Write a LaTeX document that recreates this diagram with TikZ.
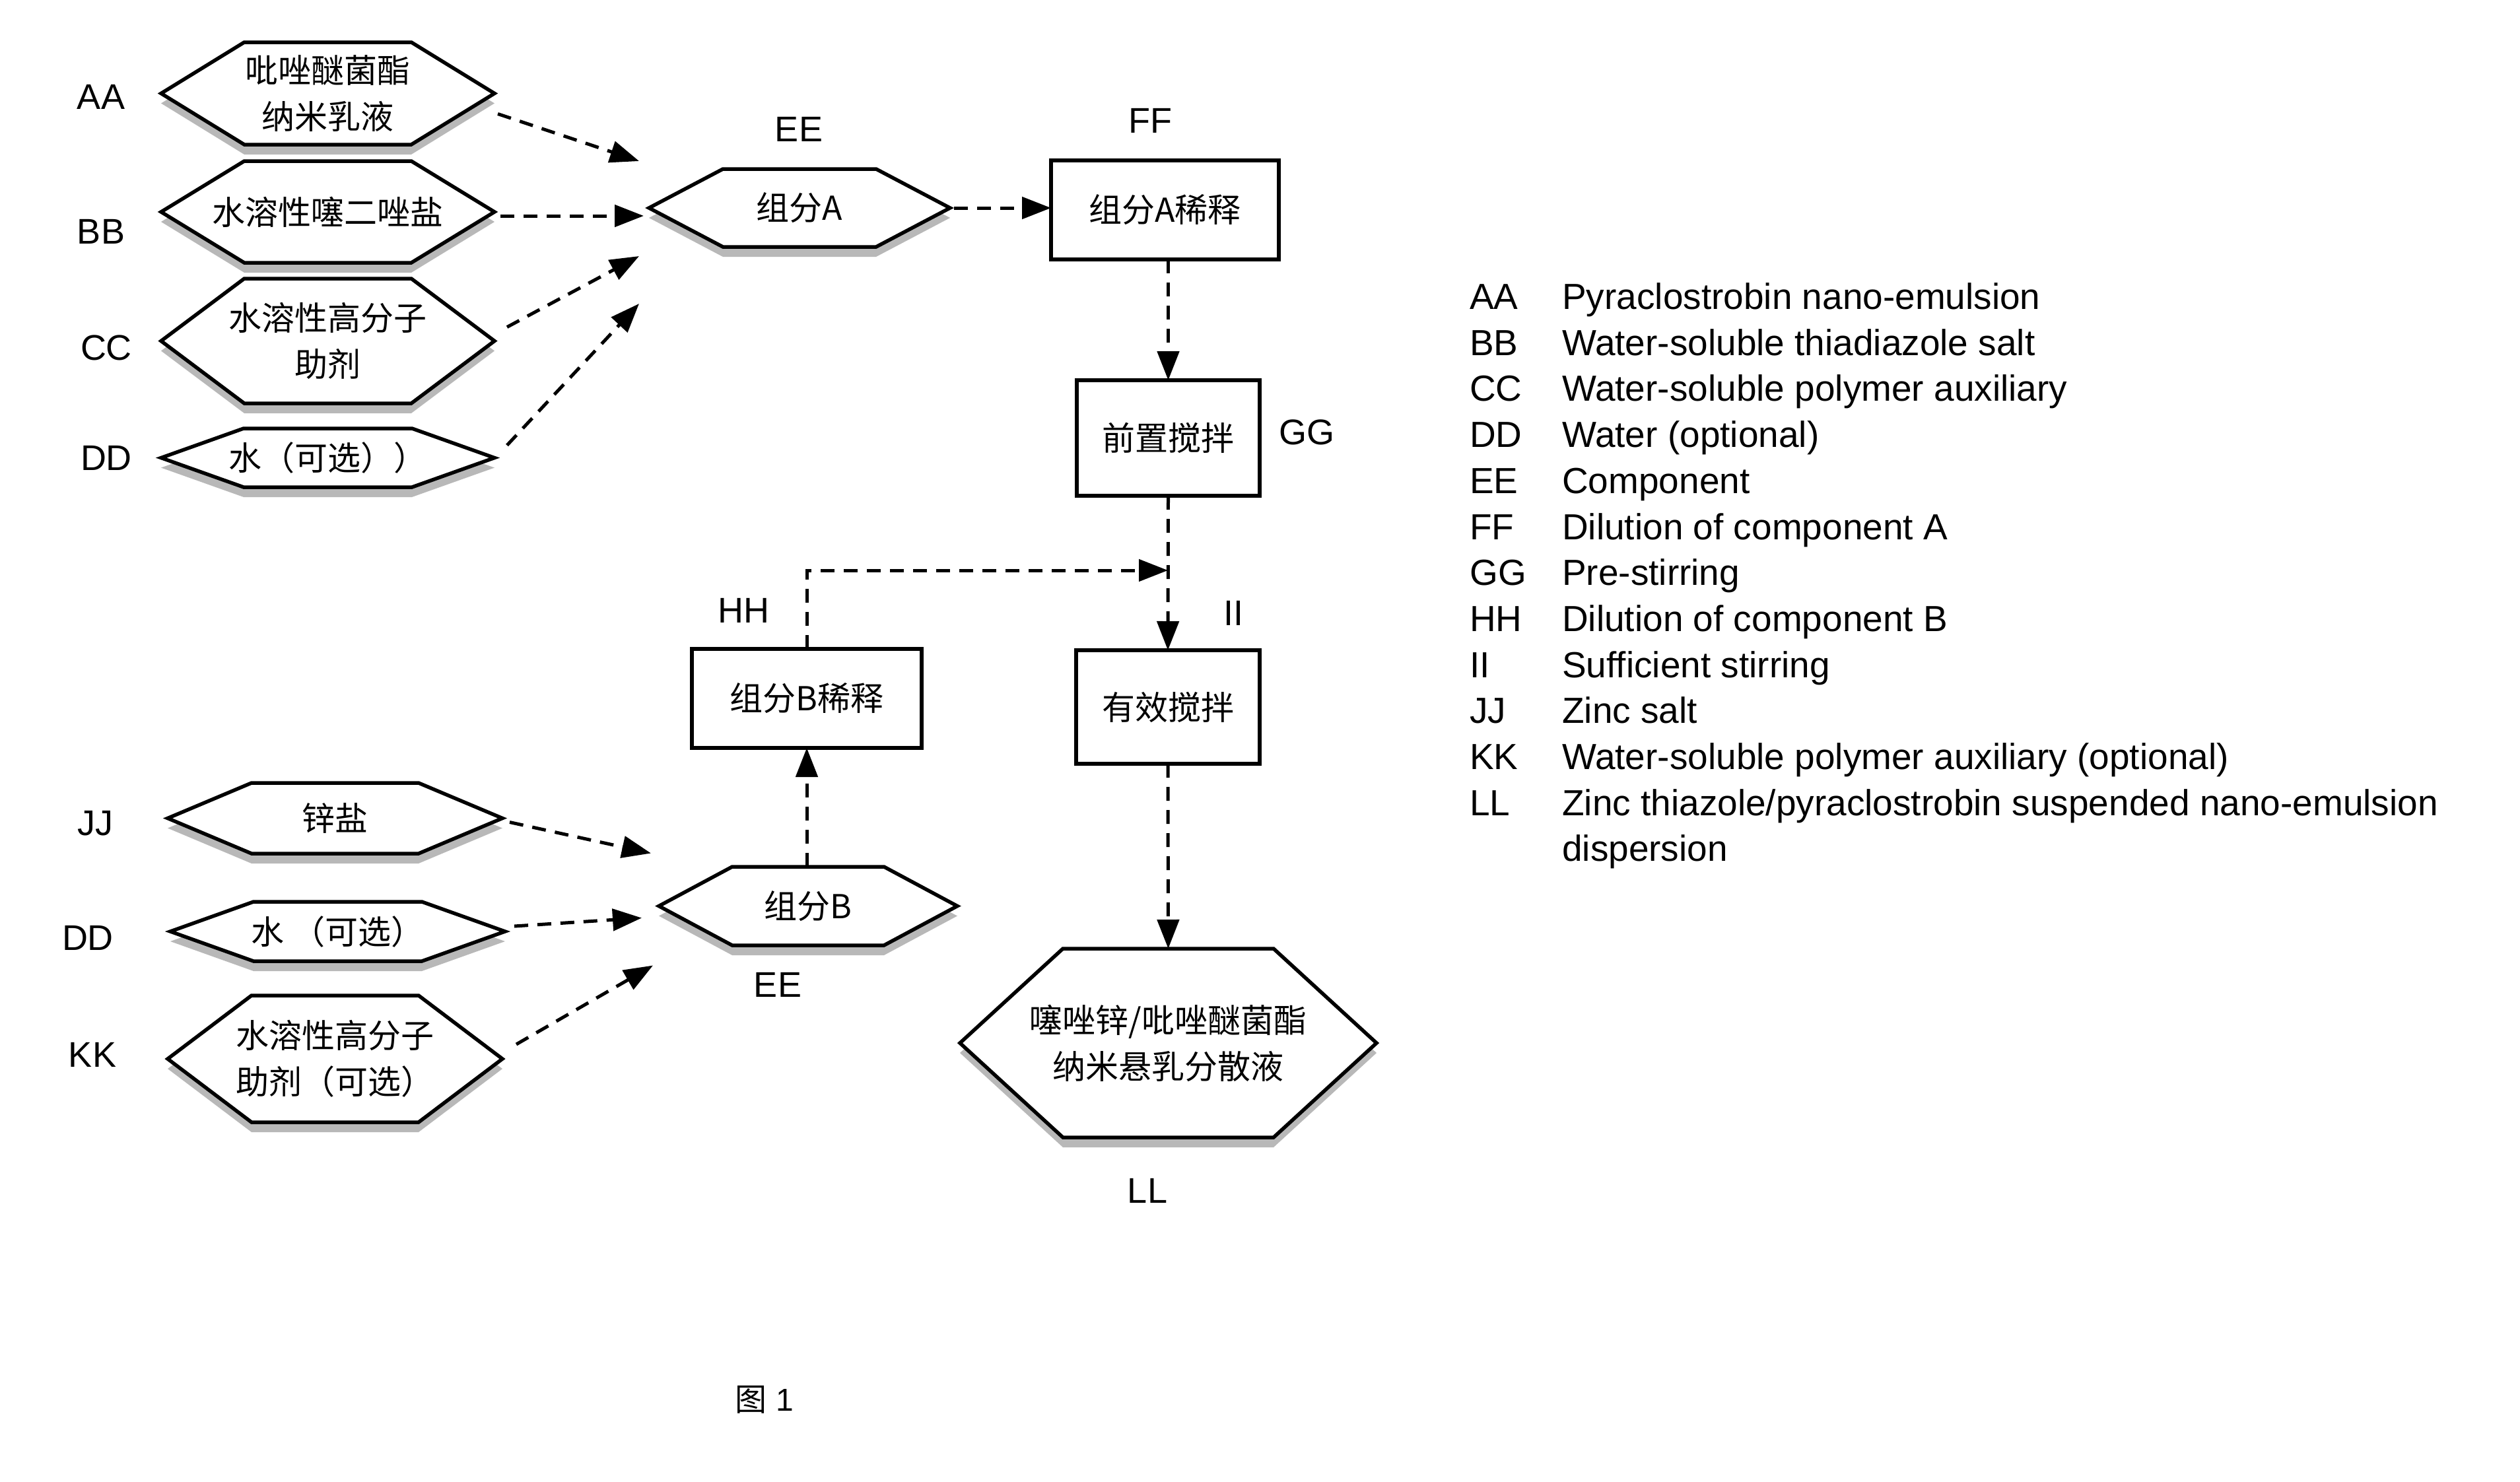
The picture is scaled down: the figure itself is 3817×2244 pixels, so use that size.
\documentclass[tikz,border=0pt]{standalone}
\usepackage{fontspec}
\setmainfont{Liberation Sans}
\newfontfamily\cjk{Noto Sans CJK SC}
\usetikzlibrary{arrows.meta,backgrounds}
\pgfdeclarelayer{bg}
\pgfsetlayers{bg,background,main}

\tikzset{
  hexbox/.style={draw=none, inner sep=0pt, outer sep=0pt, align=center,
    font=\cjk\fontsize{50}{70}\selectfont},
  hexline/.style={draw=black, line width=5.5pt, fill=white, line join=miter},
  hexshadow/.style={fill=black!28},
  procbox/.style={draw=black, line width=5.5pt, inner sep=0pt, outer sep=0pt, align=center,
    font=\cjk\fontsize{50}{70}\selectfont},
  lbl/.style={font=\fontsize{54}{60}\selectfont, inner sep=0pt},
  flow/.style={line width=5pt, dash pattern=on 21pt off 14pt,
    -{Triangle[length=44pt,width=33pt]}},
  legitem/.style={font=\fontsize{55}{60}\selectfont, inner sep=0pt, anchor=base west},
}

\newcommand\hexdraw[2]{%
  \begin{pgfonlayer}{background}
    \fill[hexshadow] ([shift={(0,15)}]#1.west) -- ([shift={(#2,15)}]#1.north west)
      -- ([shift={(-#2,15)}]#1.north east) -- ([shift={(0,15)}]#1.east)
      -- ([shift={(-#2,15)}]#1.south east) -- ([shift={(#2,15)}]#1.south west) -- cycle;
    \draw[hexline] (#1.west) -- ([shift={(#2,0)}]#1.north west)
      -- ([shift={(-#2,0)}]#1.north east) -- (#1.east)
      -- ([shift={(-#2,0)}]#1.south east) -- ([shift={(#2,0)}]#1.south west) -- cycle;
  \end{pgfonlayer}}

\begin{document}
\begin{tikzpicture}[x=1pt,y=-1pt]
\begin{pgfonlayer}{bg}
  \fill[white] (0,0) rectangle (3817,2244);
\end{pgfonlayer}
\useasboundingbox (0,0) rectangle (3817,2244);

% input hexagons (component A)
\node[hexbox, minimum width=505pt, minimum height=155pt] (aa) at (496.5,141.5) {吡唑醚菌酯\\纳米乳液};
\node[hexbox, minimum width=505pt, minimum height=154pt] (bb) at (496.5,321) {水溶性噻二唑盐};
\node[hexbox, minimum width=505pt, minimum height=189pt] (cc) at (496.5,516.5) {水溶性高分子\\助剂};
\node[hexbox, minimum width=505pt, minimum height=89pt] (dd) at (496.5,693.5) {水（可选））};
\node[hexbox, minimum width=456pt, minimum height=118pt] (ea) at (1211,315) {组分A};
\hexdraw{aa}{126}
\hexdraw{bb}{126}
\hexdraw{cc}{126}
\hexdraw{dd}{125}
\hexdraw{ea}{112}

% input hexagons (component B)
\node[hexbox, minimum width=507pt, minimum height=107pt] (jj) at (507.5,1239.5) {锌盐};
\node[hexbox, minimum width=507pt, minimum height=90pt] (dd2) at (511.5,1411) {水\ （可选）};
\node[hexbox, minimum width=507pt, minimum height=192pt] (kk) at (507.5,1604) {水溶性高分子\\助剂（可选）};
\node[hexbox, minimum width=452pt, minimum height=119pt] (eb) at (1224,1372.5) {组分B};
\node[hexbox, minimum width=631pt, minimum height=286pt] (ll) at (1769.5,1580) {噻唑锌/吡唑醚菌酯\\纳米悬乳分散液};
\hexdraw{jj}{127}
\hexdraw{dd2}{126}
\hexdraw{kk}{127}
\hexdraw{eb}{111}
\hexdraw{ll}{156}

% process boxes
\node[procbox, minimum width=345pt, minimum height=150pt] (ff) at (1764.5,318) {组分A稀释};
\node[procbox, minimum width=277pt, minimum height=175pt] (gg) at (1769.5,663.5) {前置搅拌};
\node[procbox, minimum width=348pt, minimum height=150pt] (hh) at (1222,1058) {组分B稀释};
\node[procbox, minimum width=278pt, minimum height=172pt] (ii) at (1769,1071) {有效搅拌};

% labels
\node[lbl] (lAA) at (153,147) {AA};
\node[lbl] (lBB) at (153,351) {BB};
\node[lbl] (lCC) at (161,527) {CC};
\node[lbl] (lDD) at (161,694) {DD};
\node[lbl] (lEE) at (1210,196) {EE};
\node[lbl] (lFF) at (1742,183) {FF};
\node[lbl] (lGG) at (1979,655) {GG};
\node[lbl] (lHH) at (1126,925) {HH};
\node[lbl] (lII) at (1868,929) {II};
\node[lbl] (lJJ) at (144,1247) {JJ};
\node[lbl] (lDD2) at (133,1421) {DD};
\node[lbl] (lKK) at (140,1598) {KK};
\node[lbl] (lEE2) at (1178,1492) {EE};
\node[lbl] (lLL) at (1738,1804) {LL};

% connectors
\draw[flow] ([shift={(5,31)}]aa.east) -- ([shift={(-15,-71)}]ea.west);
\draw[flow] ([shift={(9,6)}]bb.east) -- ([shift={(-8,12)}]ea.west);
\draw[flow] ([shift={(19,-21)}]cc.east) -- ([shift={(-15,73)}]ea.west);
\draw[flow] ([shift={(19,-19)}]dd.east) -- ([shift={(-15,145)}]ea.west);
\draw[flow] ([shift={(6,0)}]ea.east) -- (ea.east -| ff.west);
\draw[flow] (gg.north |- ff.south) -- (gg.north);
\draw[flow] (gg.south) -- (ii.north);
\coordinate (jn) at (1769,864);
\draw[flow] (hh.north) |- (jn);
\draw[flow] (hh.south |- eb.north) -- (hh.south);
\draw[flow] ([shift={(11,6)}]jj.east) -- ([shift={(-12,-80)}]eb.west);
\draw[flow] ([shift={(14,-8)}]dd2.east) -- ([shift={(-26,18)}]eb.west);
\draw[flow] ([shift={(21,-22)}]kk.east) -- ([shift={(-9,90)}]eb.west);
\draw[flow] (ii.south) -- (ll.north);

% legend
\node[legitem] (cAA) at (2226,468.5) {AA};
\node[legitem] (tAA) at (2366,468.5) {Pyraclostrobin nano-emulsion};
\node[legitem] (cBB) at (2226,538.2) {BB};
\node[legitem] (tBB) at (2366,538.2) {Water-soluble thiadiazole salt};
\node[legitem] (cCC) at (2226,607.9) {CC};
\node[legitem] (tCC) at (2366,607.9) {Water-soluble polymer auxiliary};
\node[legitem] (cDD) at (2226,677.6) {DD};
\node[legitem] (tDD) at (2366,677.6) {Water (optional)};
\node[legitem] (cEE) at (2226,747.3) {EE};
\node[legitem] (tEE) at (2366,747.3) {Component};
\node[legitem] (cFF) at (2226,817) {FF};
\node[legitem] (tFF) at (2366,817) {Dilution of component A};
\node[legitem] (cGG) at (2226,886.7) {GG};
\node[legitem] (tGG) at (2366,886.7) {Pre-stirring};
\node[legitem] (cHH) at (2226,956.4) {HH};
\node[legitem] (tHH) at (2366,956.4) {Dilution of component B};
\node[legitem] (cII) at (2226,1026.1) {II};
\node[legitem] (tII) at (2366,1026.1) {Sufficient stirring};
\node[legitem] (cJJ) at (2226,1095.8) {JJ};
\node[legitem] (tJJ) at (2366,1095.8) {Zinc salt};
\node[legitem] (cKK) at (2226,1165.5) {KK};
\node[legitem] (tKK) at (2366,1165.5) {Water-soluble polymer auxiliary (optional)};
\node[legitem] (cLL) at (2226,1235.2) {LL};
\node[legitem] (tLL) at (2366,1235.2) {Zinc thiazole/pyraclostrobin suspended nano-emulsion};
\node[legitem] (tLL2) at (2366,1304.9) {dispersion};

% caption
\node[font=\fontsize{48}{54}\selectfont, inner sep=0pt] (cap) at (1158,2120) {{\cjk 图} 1};
\end{tikzpicture}
\end{document}
